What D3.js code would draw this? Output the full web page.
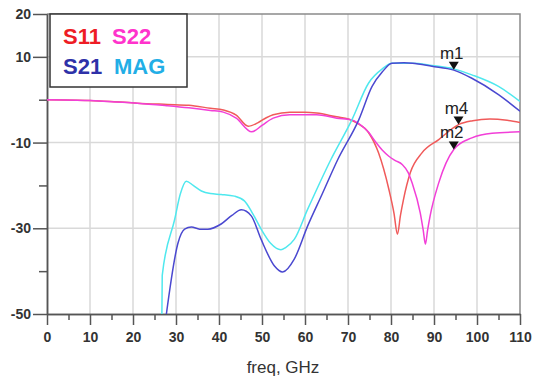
<!DOCTYPE html>
<html>
<head>
<meta charset="utf-8">
<script src="https://cdn.jsdelivr.net/npm/d3@7"></script>
<style>
    html, body { margin: 0; padding: 0; background: #fff; }
    svg { display: block; font-family: "Liberation Sans", Arial, sans-serif; }
</style>
</head>
<body>
<svg id="chart" width="544" height="380"></svg>
<script>
// frequency (GHz) and dB values
const s11Freq = [0, 7, 10, 15, 21, 28, 33, 38, 41, 44, 46.8, 49, 51, 52.6, 56.5, 60, 62.7, 67.4, 70.1, 72, 74.8, 77.1, 79.5, 80.7, 81.5, 82.2, 82.9, 84.5, 87.2, 91.1, 95.7, 99, 103, 107, 110];
const s11Db = [0, -0.1, -0.2, -0.4, -0.8, -1.1, -1.3, -2.0, -2.4, -3.6, -6.2, -5.4, -4.2, -3.5, -2.9, -2.9, -3.1, -4.0, -4.5, -5.4, -7.7, -12.4, -20.9, -26.5, -31.4, -27, -23.3, -17, -12.4, -9.3, -5.8, -4.9, -4.5, -4.8, -5.3];

const s22Freq = [0, 7, 10, 15, 21, 28, 33, 38, 41, 44, 47.6, 50, 52.6, 56.5, 62.7, 67.4, 70.9, 72.5, 74.8, 76.3, 78, 79.5, 81, 82.6, 84, 84.9, 86.8, 87.5, 88, 88.5, 89.1, 91.1, 94.6, 98.8, 103.5, 110];
const s22Db = [0, -0.1, -0.2, -0.5, -0.8, -1.4, -1.9, -2.5, -2.9, -4.3, -7.5, -6.0, -4.3, -3.5, -3.5, -4.3, -4.7, -5.6, -7.6, -9.7, -11.8, -13.2, -14.2, -15.1, -17, -19.4, -26.4, -30.5, -33.7, -30.5, -27.1, -19.4, -11.6, -8.9, -7.8, -7.5];

const s21Freq = [27.5, 30.5, 32, 33.6, 35.5, 37.4, 40.5, 43, 45.2, 47.5, 49.8, 52.9, 54.8, 57.5, 60.6, 64, 67.6, 72.5, 75.6, 78, 80.2, 83, 85, 89.5, 94.6, 98.8, 105, 110];
const s21Db = [-52, -33.3, -30.2, -29.7, -30.2, -30.2, -29, -27, -25.7, -27.1, -32.6, -38.8, -40.2, -37.2, -29.5, -22, -14, -4.7, 3.1, 6.5, 8.5, 8.6, 8.5, 7.8, 6.9, 5.0, 1.2, -2.7];

const magFreq = [26.7, 26.8, 29.7, 31, 32.4, 34, 35.9, 38, 40.5, 43.6, 45.9, 47.8, 49.8, 52, 54.4, 55.5, 57.5, 60.6, 66, 70.9, 74.8, 78, 80.2, 85, 89.5, 94.6, 98.8, 105, 110];
const magDb = [-52, -41, -27.9, -22, -19, -20, -21.3, -21.9, -22.1, -22.5, -23.6, -26.5, -30.2, -33.5, -35, -34.5, -32.6, -25.6, -14, -4.7, 3.9, 7.2, 8.5, 8.5, 8.0, 7.2, 5.8, 3.1, -0.4];

const xMajorTicks = [0, 10, 20, 30, 40, 50, 60, 70, 80, 90, 100, 110];
const xMinorTicks = [5, 15, 25, 35, 45, 55, 65, 75, 85, 95, 105];
const yMajorTicks = [20, 10, -10, -30, -50];
const yMinorTicks = [0, -20, -40];

const markerNames = ["m1", "m2", "m4"];
const markerFreq = [94.6, 94.6, 95.7];
const markerDb = [7.0, -11.6, -5.8];

const svg = d3.select("#chart");

const plotLeft = 47, plotRight = 520, plotTop = 14, plotBottom = 314;
const x = d3.scaleLinear().domain([0, 110]).range([plotLeft, plotRight]);
const y = d3.scaleLinear().domain([-50, 20]).range([plotBottom, plotTop]);

// grid
svg.append("g")
    .selectAll("line")
    .data(xMajorTicks.filter((d) => d > 0 && d < 110))
    .join("line")
    .attr("x1", (d) => x(d)).attr("x2", (d) => x(d))
    .attr("y1", plotTop).attr("y2", plotBottom)
    .attr("stroke", "#d9d9d9").attr("stroke-width", 1.5);

svg.append("g")
    .selectAll("line")
    .data([10, -10, -30])
    .join("line")
    .attr("x1", plotLeft).attr("x2", plotRight)
    .attr("y1", (d) => y(d)).attr("y2", (d) => y(d))
    .attr("stroke", "#d9d9d9").attr("stroke-width", 1.5);

// top / right frame
svg.append("path")
    .attr("d", `M${plotLeft},${plotTop}H${plotRight}V${plotBottom}`)
    .attr("fill", "none")
    .attr("stroke", "#8a8a8a")
    .attr("stroke-width", 1.5);

function styleAxis(g) {
    g.select(".domain").attr("stroke", "#555").attr("stroke-width", 1.5);
    g.selectAll(".tick line").attr("stroke", "#555").attr("stroke-width", 1.5);
    g.selectAll(".tick text")
        .attr("fill", "#333")
        .attr("font-size", 14)
        .attr("font-weight", "bold")
        .attr("font-family", "Liberation Sans, Arial, sans-serif");
}

// plain hyphen for negatives, as in the reference
const tickLabel = (d) => String(d);

svg.append("g")
    .attr("transform", `translate(0,${plotBottom})`)
    .call(d3.axisBottom(x).tickValues(xMinorTicks).tickSize(6).tickSizeOuter(0).tickFormat(""))
    .call(styleAxis);

svg.append("g")
    .attr("transform", `translate(0,${plotBottom})`)
    .call(d3.axisBottom(x).tickValues(xMajorTicks).tickSize(11).tickSizeOuter(0).tickPadding(7).tickFormat(tickLabel))
    .call(styleAxis);

svg.append("g")
    .attr("transform", `translate(${plotLeft},0)`)
    .call(d3.axisLeft(y).tickValues(yMinorTicks).tickSize(8).tickSizeOuter(0).tickFormat(""))
    .call(styleAxis);

svg.append("g")
    .attr("transform", `translate(${plotLeft},0)`)
    .call(d3.axisLeft(y).tickValues(yMajorTicks).tickSize(14).tickSizeOuter(0).tickPadding(2).tickFormat(tickLabel))
    .call(styleAxis);

svg.append("text")
    .attr("x", 283)
    .attr("y", 373)
    .attr("text-anchor", "middle")
    .attr("font-size", 17)
    .attr("fill", "#333")
    .text("freq, GHz");

// curves
svg.append("clipPath").attr("id", "plot-clip")
    .append("rect")
    .attr("x", plotLeft).attr("y", plotTop)
    .attr("width", plotRight - plotLeft).attr("height", plotBottom - plotTop);

const line = d3.line()
    .x((d) => x(d[0]))
    .y((d) => y(d[1]))
    .curve(d3.curveMonotoneX);

const series = [
    { freq: s11Freq, db: s11Db, color: "#f05a5a" },
    { freq: s22Freq, db: s22Db, color: "#f23fd8" },
    { freq: magFreq, db: magDb, color: "#4fe8ee" },
    { freq: s21Freq, db: s21Db, color: "#4a48d0" }
];

const curves = svg.append("g").attr("clip-path", "url(#plot-clip)");
series.forEach((s) => {
    curves.append("path")
        .datum(d3.zip(s.freq, s.db))
        .attr("fill", "none")
        .attr("stroke", s.color)
        .attr("stroke-width", 1.5)
        .attr("d", line);
});

// markers
markerNames.forEach((name, i) => {
    const mx = x(markerFreq[i]);
    const my = y(markerDb[i]);
    svg.append("path")
        .attr("d", `M${mx},${my}l-5,-8h10z`)
        .attr("fill", "#111");
    svg.append("text")
        .attr("x", mx - 2)
        .attr("y", my - 11)
        .attr("text-anchor", "middle")
        .attr("font-size", 17)
        .attr("fill", "#222")
        .text(name);
});

// legend
const legend = svg.append("g");
legend.append("rect")
    .attr("x", 50).attr("y", 14)
    .attr("width", 137).attr("height", 73)
    .attr("fill", "#fff")
    .attr("stroke", "#333")
    .attr("stroke-width", 1.5);

const legendNames = ["S11", "S22", "S21", "MAG"];
const legendColors = ["#ee1c25", "#ff33cc", "#2e31a8", "#22aee6"];
const legendX = [63, 112, 63, 114];
const legendY = [44, 44, 74, 74];
legend.selectAll("text")
    .data(legendNames)
    .join("text")
    .attr("x", (_, i) => legendX[i])
    .attr("y", (_, i) => legendY[i])
    .attr("font-size", 22)
    .attr("font-weight", "bold")
    .attr("fill", (_, i) => legendColors[i])
    .text((d) => d);
</script>
</body>
</html>
